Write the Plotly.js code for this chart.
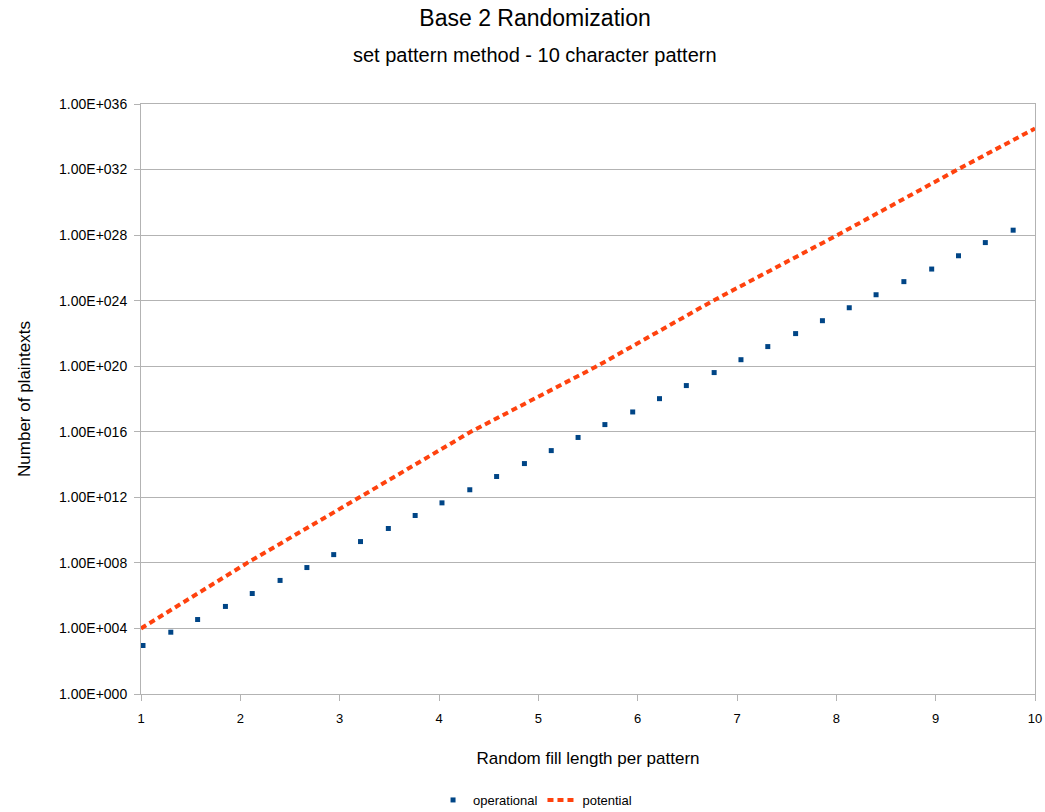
<!DOCTYPE html>
<html>
<head>
<meta charset="utf-8">
<script src="https://cdn.plot.ly/plotly-3.0.1.min.js"></script>
<style>
  html, body { margin: 0; padding: 0; background: #ffffff; }
  #chart { width: 1045px; height: 812px; }
</style>
</head>
<body>
<div id="chart"></div>
<script>
// ---- data ----
const operationalX = [1.02, 1.30, 1.57, 1.85, 2.12, 2.40, 2.67, 2.94, 3.21, 3.49, 3.76,
  4.03, 4.31, 4.58, 4.86, 5.13, 5.40, 5.67, 5.95, 6.22, 6.49, 6.77, 7.04, 7.31,
  7.59, 7.86, 8.13, 8.40, 8.68, 8.96, 9.23, 9.50, 9.78];
const operationalY = [9.1e2, 5.9e3, 3.5e4, 2.2e5, 1.35e6, 8.5e6, 5.2e7, 3.2e8, 2.0e9,
  1.26e10, 7.8e10, 4.6e11, 2.9e12, 1.86e13, 1.15e14, 7.1e14, 4.5e15, 2.75e16,
  1.62e17, 1.05e18, 6.6e18, 4.1e19, 2.5e20, 1.58e21, 9.8e21, 6.0e22, 3.7e23,
  2.3e24, 1.45e25, 8.5e25, 5.5e26, 3.5e27, 2.0e28];
const potentialX = [1.0, 2.07, 3.2, 4.32, 5.59, 6.76, 8.01, 9.22, 10.0];
const potentialY = [1e4, 1e8, 1e12, 1e16, 1e20, 1e24, 1e28, 1e32, 3.2e34];
const yTickVals = [1e0, 1e4, 1e8, 1e12, 1e16, 1e20, 1e24, 1e28, 1e32, 1e36];
const yTickText = ["1.00E+000", "1.00E+004", "1.00E+008", "1.00E+012", "1.00E+016",
  "1.00E+020", "1.00E+024", "1.00E+028", "1.00E+032", "1.00E+036"];
const xTickVals = [1, 2, 3, 4, 5, 6, 7, 8, 9, 10];
const seriesNames = ["operational", "potential"];
const titleText = "Base 2 Randomization";
const subtitleText = "set pattern method - 10 character pattern";
const xTitle = "Random fill length per pattern";
const yTitle = "Number of plaintexts";

const FONT = "Liberation Sans, Arial, sans-serif";
const GRID = "#b3b3b3";

const traces = [
  {
    type: "scatter", mode: "markers", name: seriesNames[0],
    x: operationalX, y: operationalY,
    marker: { symbol: "square", size: 5, color: "#004586" }
  },
  {
    type: "scatter", mode: "lines", name: seriesNames[1],
    x: potentialX, y: potentialY,
    line: { color: "#ff420e", width: 4, dash: "6px,4px" }
  }
];

const layout = {
  width: 1045, height: 812,
  paper_bgcolor: "#ffffff", plot_bgcolor: "#ffffff",
  font: { family: FONT, color: "#000000", size: 13 },
  margin: { l: 141, r: 10, t: 104, b: 118 },
  title: {
    text: titleText,
    font: { family: FONT, size: 23, color: "#000000" },
    xref: "container", x: 0.512, xanchor: "center",
    yref: "container", y: 1 - 18 / 812, yanchor: "middle"
  },
  annotations: [
    {
      text: subtitleText, showarrow: false,
      xref: "paper", yref: "paper",
      x: (535 - 141) / (1045 - 141 - 10), xanchor: "center",
      y: 1 + (104 - 55) / (812 - 104 - 118), yanchor: "middle",
      font: { family: FONT, size: 20, color: "#000000" }
    }
  ],
  xaxis: {
    range: [1, 10], tickvals: xTickVals, ticktext: xTickVals.map(String),
    showgrid: false, zeroline: false,
    showline: true, linecolor: GRID, linewidth: 1, mirror: true,
    ticks: "outside", ticklen: 6, tickcolor: GRID, tickwidth: 1,
    tickfont: { family: FONT, size: 13, color: "#000000" },
    ticklabelstandoff: 6,
    title: { text: xTitle, font: { family: FONT, size: 17, color: "#000000" }, standoff: 27 }
  },
  yaxis: {
    type: "log", range: [0, 36], tickvals: yTickVals, ticktext: yTickText,
    showgrid: true, gridcolor: GRID, gridwidth: 1, zeroline: false,
    showline: true, linecolor: GRID, linewidth: 1, mirror: true,
    ticks: "outside", ticklen: 6, tickcolor: GRID, tickwidth: 1,
    tickfont: { family: FONT, size: 14, color: "#000000" },
    ticklabelstandoff: 4,
    title: { text: yTitle, font: { family: FONT, size: 17, color: "#000000" }, standoff: 24 }
  },
  showlegend: true,
  legend: {
    orientation: "h",
    xref: "container", x: 0.512, xanchor: "center",
    yref: "container", y: 1 - 800 / 812, yanchor: "middle",
    font: { family: FONT, size: 13, color: "#000000" },
    itemwidth: 30, tracegroupgap: 0
  }
};

Plotly.newPlot("chart", traces, layout, { displayModeBar: false, staticPlot: true });
</script>
</body>
</html>
